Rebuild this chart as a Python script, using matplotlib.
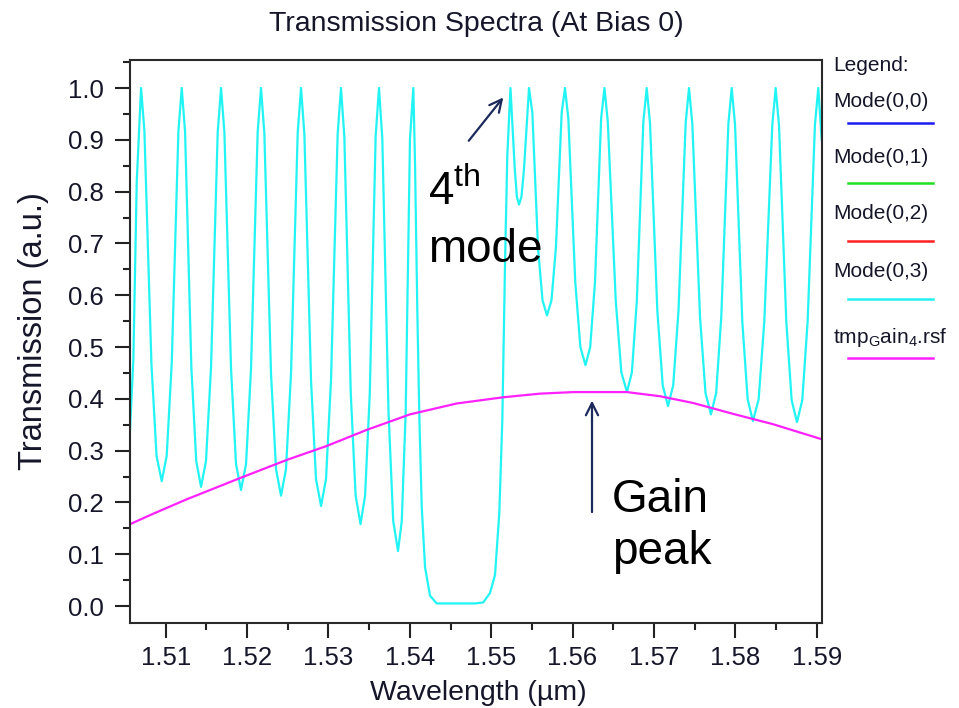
#!/usr/bin/env python3
"""Transmission spectra of the laser cavity at bias 0, with the gain curve.

Redraws the RSoft-style plot: cavity transmission (Mode(0,3)) and the
material gain spectrum (tmp_Gain_4.rsf), with call-outs for the 4th mode
and the gain peak.

Output: ``out.png``.
"""
import matplotlib

matplotlib.use("Agg")
import matplotlib.pyplot as plt
from matplotlib.lines import Line2D
from matplotlib.ticker import FormatStrFormatter, MultipleLocator

plt.rcParams["font.family"] = ["Liberation Sans", "DejaVu Sans"]
plt.rcParams["mathtext.fontset"] = "custom"
plt.rcParams["mathtext.rm"] = "Liberation Sans"

# Mode(0,3) transmission (wavelength in um, a.u.)
wavelength = [
    1.50561, 1.50602, 1.50644, 1.50697, 1.50738, 1.50824, 1.50887, 1.50951,
    1.51012, 1.51074, 1.51156, 1.51197, 1.51238, 1.51315, 1.51375, 1.51434,
    1.51495, 1.51557, 1.51639, 1.51680, 1.51721, 1.51803, 1.51864, 1.51925,
    1.51987, 1.52048, 1.52130, 1.52171, 1.52212, 1.52294, 1.52356, 1.52417,
    1.52478, 1.52540, 1.52622, 1.52663, 1.52704, 1.52786, 1.52847, 1.52909,
    1.52970, 1.53031, 1.53113, 1.53154, 1.53195, 1.53274, 1.53334, 1.53394,
    1.53450, 1.53508, 1.53580, 1.53621, 1.53662, 1.53738, 1.53796, 1.53855,
    1.53901, 1.53949, 1.54002, 1.54043, 1.54064, 1.54092, 1.54117, 1.54146,
    1.54187, 1.54248, 1.54330, 1.54432, 1.54801, 1.54903, 1.54985, 1.55047,
    1.55100, 1.55137, 1.55170, 1.55198, 1.55237, 1.55290, 1.55316, 1.55342,
    1.55372, 1.55403, 1.55465, 1.55506, 1.55575, 1.55631, 1.55686, 1.55741,
    1.55796, 1.55866, 1.55907, 1.55948, 1.56033, 1.56096, 1.56159, 1.56217,
    1.56276, 1.56351, 1.56392, 1.56433, 1.56531, 1.56600, 1.56669, 1.56729,
    1.56790, 1.56870, 1.56911, 1.56952, 1.57042, 1.57108, 1.57173, 1.57237,
    1.57302, 1.57390, 1.57431, 1.57472, 1.57566, 1.57634, 1.57701, 1.57765,
    1.57828, 1.57915, 1.57956, 1.57997, 1.58086, 1.58152, 1.58217, 1.58287,
    1.58357, 1.58455, 1.58496, 1.58537, 1.58627, 1.58693, 1.58758, 1.58823,
    1.58889, 1.58979, 1.59020, 1.59062,
]
transmission = [
    0.340, 0.475, 0.820, 1.000, 0.917, 0.469, 0.290, 0.241,
    0.290, 0.469, 0.917, 1.000, 0.915, 0.461, 0.280, 0.230,
    0.280, 0.461, 0.915, 1.000, 0.915, 0.457, 0.274, 0.224,
    0.274, 0.457, 0.915, 1.000, 0.913, 0.449, 0.264, 0.213,
    0.264, 0.449, 0.913, 1.000, 0.911, 0.435, 0.245, 0.193,
    0.245, 0.435, 0.911, 1.000, 0.907, 0.411, 0.213, 0.158,
    0.213, 0.411, 0.907, 1.000, 0.902, 0.374, 0.164, 0.106,
    0.164, 0.374, 0.902, 1.000, 0.854, 0.571, 0.365, 0.193,
    0.075, 0.020, 0.005, 0.005, 0.005, 0.007, 0.025, 0.060,
    0.180, 0.360, 0.660, 0.870, 1.000, 0.843, 0.790, 0.775,
    0.790, 0.843, 1.000, 0.952, 0.693, 0.590, 0.561, 0.590,
    0.693, 0.952, 1.000, 0.941, 0.626, 0.500, 0.465, 0.500,
    0.626, 0.941, 1.000, 0.935, 0.589, 0.451, 0.413, 0.451,
    0.589, 0.935, 1.000, 0.932, 0.570, 0.426, 0.386, 0.426,
    0.570, 0.932, 1.000, 0.931, 0.559, 0.411, 0.370, 0.411,
    0.559, 0.931, 1.000, 0.929, 0.550, 0.399, 0.357, 0.399,
    0.550, 0.929, 1.000, 0.929, 0.549, 0.397, 0.355, 0.397,
    0.549, 0.929, 1.000, 0.900,
]

# tmp_Gain_4.rsf gain spectrum
gain_wavelength = [
    1.50561, 1.50844, 1.51258, 1.51913, 1.52487, 1.52979, 1.53470, 1.54002,
    1.54576, 1.55149, 1.55600, 1.56009, 1.56669, 1.57075, 1.57481, 1.57972,
    1.58464, 1.59062,
]
gain = [
    0.158, 0.178, 0.206, 0.247, 0.282, 0.309, 0.340, 0.370,
    0.391, 0.403, 0.410, 0.413, 0.413, 0.405, 0.392, 0.371,
    0.351, 0.322,
]

legend_labels = ["Mode(0,0)", "Mode(0,1)", "Mode(0,2)", "Mode(0,3)",
                 r"tmp$_\mathregular{G}$ain$_\mathregular{4}$.rsf"]
legend_colors = ["#1c1cf0", "#22e022", "#ff2020", "#22f0f0", "#ff22ff"]

TXT = "#16162a"
ARROW = "#1c2a5c"


def main():
    fig = plt.figure(figsize=(9.59, 7.08), dpi=100)
    ax = fig.add_axes([0.13556, 0.12048, 0.72127, 0.79477])

    ax.plot(wavelength, transmission, color="#22f4f4", lw=1.6)
    ax.plot(gain_wavelength, gain, color="#ff22ff", lw=1.6)

    ax.set_xlim(1.50561, 1.59062)
    ax.set_ylim(-0.0322, 1.0541)
    ax.xaxis.set_major_locator(MultipleLocator(0.01))
    ax.xaxis.set_minor_locator(MultipleLocator(0.005))
    ax.yaxis.set_major_locator(MultipleLocator(0.1))
    ax.yaxis.set_minor_locator(MultipleLocator(0.05))
    ax.xaxis.set_major_formatter(FormatStrFormatter("%.2f"))
    ax.yaxis.set_major_formatter(FormatStrFormatter("%.1f"))
    ax.tick_params(which="major", length=10.5, width=1.5, color="#222222",
                   labelsize=18.5, labelcolor=TXT)
    ax.tick_params(which="minor", length=5, width=1.5, color="#222222")
    ax.tick_params(axis="x", pad=6)
    ax.tick_params(axis="y", pad=8.5)
    for sp in ax.spines.values():
        sp.set_color("#2a2a2a")
        sp.set_linewidth(1.5)

    fig.text(0.4965, 0.966, "Transmission Spectra (At Bias 0)", ha="center",
             va="center", fontsize=20.5, color=TXT)
    fig.text(0.4985, 0.021, "Wavelength (\u00b5m)", ha="center", va="center",
             fontsize=20.5, color=TXT)
    fig.text(0.035, 0.533, "Transmission (a.u.)", ha="center", va="center",
             rotation=90, fontsize=23.5, color=TXT)

    # legend to the right, label above a short line sample
    fig.text(0.8686, 0.907, "Legend:", ha="left", va="center", fontsize=15,
             color=TXT)
    text_y = [0.856, 0.777, 0.698, 0.617, 0.524]
    line_y = [0.826, 0.742, 0.660, 0.578, 0.494]
    for lab, col, ty, ly in zip(legend_labels, legend_colors, text_y, line_y):
        fig.text(0.8686, ty, lab, ha="left", va="center", fontsize=15,
                 color=TXT)
        fig.add_artist(Line2D([0.8843, 0.9729], [ly, ly], color=col, lw=1.8,
                              transform=fig.transFigure))

    # call-outs
    ax.text(1.54223, 0.774, r"4$^\mathregular{th}$", fontsize=33,
            color="black", va="baseline", ha="left")
    ax.text(1.54223, 0.664, "mode", fontsize=33, color="black",
            va="baseline", ha="left")
    ax.annotate("", xy=(1.55170, 0.986), xytext=(1.54703, 0.894),
                arrowprops=dict(arrowstyle="->", color=ARROW, lw=1.6,
                                mutation_scale=22))
    ax.text(1.56485, 0.181, "Gain", fontsize=33, color="black",
            va="baseline", ha="left")
    ax.text(1.56485, 0.081, "peak", fontsize=33, color="black",
            va="baseline", ha="left")
    ax.annotate("", xy=(1.56239, 0.402), xytext=(1.56239, 0.176),
                arrowprops=dict(arrowstyle="->", color=ARROW, lw=1.6,
                                mutation_scale=22))

    fig.savefig("out.png", dpi=100)
    plt.close(fig)


if __name__ == "__main__":
    main()
